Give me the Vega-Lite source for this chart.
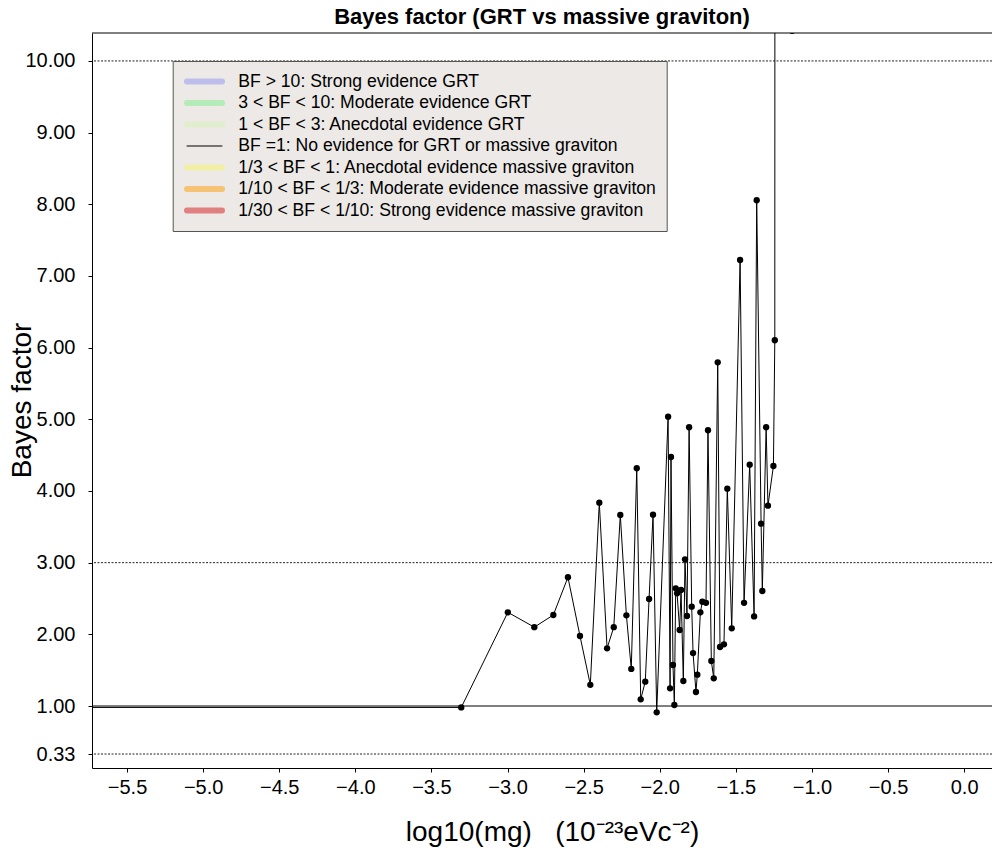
{
  "$schema": "https://vega.github.io/schema/vega-lite/v6.json",
  "width": 900,
  "height": 735,
  "autosize": {"type": "none"},
  "padding": {"left": 92, "top": 33, "right": 0, "bottom": 84},
  "background": "white",
  "title": {"text": "Bayes factor (GRT vs massive graviton)", "font": "Liberation Sans", "fontSize": 22, "fontWeight": "bold", "color": "black", "anchor": "middle", "offset": 4},
  "config": {
    "view": {"stroke": null},
    "font": "Liberation Sans",
    "axis": {"grid": false, "domainColor": "black", "tickColor": "black", "labelColor": "black", "titleColor": "black", "labelFont": "Liberation Sans", "titleFont": "Liberation Sans", "labelFontSize": 20, "titleFontWeight": "normal", "titleFontSize": 28, "domainWidth": 1, "tickWidth": 1}
  },
  "datasets": {
    "bf": [
      {"m": -7.0, "bf": 0.98},
      {"m": -3.304, "bf": 0.98},
      {"m": -2.998, "bf": 2.307},
      {"m": -2.824, "bf": 2.10},
      {"m": -2.699, "bf": 2.27},
      {"m": -2.603, "bf": 2.796},
      {"m": -2.524, "bf": 1.977},
      {"m": -2.456, "bf": 1.296},
      {"m": -2.397, "bf": 3.837},
      {"m": -2.346, "bf": 1.805},
      {"m": -2.302, "bf": 2.10},
      {"m": -2.259, "bf": 3.665},
      {"m": -2.219, "bf": 2.265},
      {"m": -2.187, "bf": 1.518},
      {"m": -2.151, "bf": 4.317},
      {"m": -2.125, "bf": 1.093},
      {"m": -2.095, "bf": 1.34},
      {"m": -2.070, "bf": 2.493},
      {"m": -2.044, "bf": 3.67},
      {"m": -2.020, "bf": 0.912},
      {"m": -1.945, "bf": 5.037},
      {"m": -1.932, "bf": 1.247},
      {"m": -1.926, "bf": 4.474},
      {"m": -1.913, "bf": 1.572},
      {"m": -1.904, "bf": 1.014},
      {"m": -1.895, "bf": 2.642},
      {"m": -1.886, "bf": 2.572},
      {"m": -1.869, "bf": 2.06},
      {"m": -1.860, "bf": 2.62},
      {"m": -1.845, "bf": 1.349},
      {"m": -1.834, "bf": 3.047},
      {"m": -1.821, "bf": 2.256},
      {"m": -1.807, "bf": 4.889},
      {"m": -1.790, "bf": 2.386},
      {"m": -1.781, "bf": 1.739},
      {"m": -1.762, "bf": 1.195},
      {"m": -1.753, "bf": 1.437},
      {"m": -1.733, "bf": 2.307},
      {"m": -1.720, "bf": 2.455},
      {"m": -1.696, "bf": 2.44},
      {"m": -1.683, "bf": 4.847},
      {"m": -1.661, "bf": 1.628},
      {"m": -1.645, "bf": 1.386},
      {"m": -1.619, "bf": 5.795},
      {"m": -1.604, "bf": 1.823},
      {"m": -1.578, "bf": 1.86},
      {"m": -1.556, "bf": 4.032},
      {"m": -1.527, "bf": 2.084},
      {"m": -1.472, "bf": 7.223},
      {"m": -1.446, "bf": 2.44},
      {"m": -1.409, "bf": 4.367},
      {"m": -1.380, "bf": 2.25},
      {"m": -1.363, "bf": 8.056},
      {"m": -1.334, "bf": 3.544},
      {"m": -1.326, "bf": 2.605},
      {"m": -1.301, "bf": 4.89},
      {"m": -1.289, "bf": 3.795},
      {"m": -1.253, "bf": 4.349},
      {"m": -1.244, "bf": 6.103},
      {"m": -1.240, "bf": 40},
      {"m": -1.13, "bf": 10.42}
    ],
    "bands": [
      {"cat": "BF > 10: Strong evidence GRT", "lo": 10},
      {"cat": "3 < BF < 10: Moderate evidence GRT", "lo": 3},
      {"cat": "1 < BF < 3: Anecdotal evidence GRT", "lo": 1},
      {"cat": "BF =1: No evidence for GRT or massive graviton", "lo": 1},
      {"cat": "1/3 < BF < 1: Anecdotal evidence massive graviton", "lo": 0.3333},
      {"cat": "1/10 < BF < 1/3: Moderate evidence massive graviton", "lo": 0.1},
      {"cat": "1/30 < BF < 1/10: Strong evidence massive graviton", "lo": 0.0333}
    ],
    "dotted": [{"y": 10}, {"y": 3}, {"y": 0.33}],
    "solid": [{"y": 1}],
    "frame": [{"y": 10.39}]
  },
  "layer": [
    {
      "data": {"name": "bands"},
      "mark": {"type": "rule", "opacity": 0, "clip": true},
      "encoding": {
        "y": {"field": "lo", "type": "quantitative", "scale": {"domain": [0.135, 10.39], "nice": false, "zero": false},
          "axis": {"values": [0.33, 1, 2, 3, 4, 5, 6, 7, 8, 9, 10], "format": ".2f", "tickSize": 4, "labelPadding": 13,
            "title": "Bayes factor", "titleX": -70, "titleY": 367, "titleBaseline": "middle", "titleAngle": -90, "titleAnchor": "middle"}},
        "color": {
          "field": "cat", "type": "nominal",
          "scale": {
            "domain": ["BF > 10: Strong evidence GRT", "3 < BF < 10: Moderate evidence GRT", "1 < BF < 3: Anecdotal evidence GRT", "BF =1: No evidence for GRT or massive graviton", "1/3 < BF < 1: Anecdotal evidence massive graviton", "1/10 < BF < 1/3: Moderate evidence massive graviton", "1/30 < BF < 1/10: Strong evidence massive graviton"],
            "range": ["#BEBEEC", "#B4EBB9", "#E1EECD", "#000000", "#F2EEA5", "#F5C373", "#E18080"]
          },
          "legend": {
            "orient": "none", "legendX": 80.7, "legendY": 28, "title": null,
            "symbolType": "M-3.5,0H3.5", "symbolSize": 100, "symbolStrokeWidth": 6,
            "labelFont": "Liberation Sans", "labelFontSize": 17.6, "labelLimit": 700, "labelColor": "black",
            "fillColor": "#ECE9E6", "strokeColor": "#555555", "padding": 10, "rowPadding": 0.5, "clipHeight": 21, "labelOffset": 25, "symbolOffset": 13,
            "encode": {
              "symbols": {"update": {
                "opacity": {"value": 1},
                "strokeOpacity": {"value": 1},
                "strokeCap": {"value": "round"}
              }}
            }
          }
        },
        "strokeWidth": {
          "field": "cat", "type": "nominal",
          "scale": {
            "type": "ordinal",
            "domain": ["BF > 10: Strong evidence GRT", "3 < BF < 10: Moderate evidence GRT", "1 < BF < 3: Anecdotal evidence GRT", "BF =1: No evidence for GRT or massive graviton", "1/3 < BF < 1: Anecdotal evidence massive graviton", "1/10 < BF < 1/3: Moderate evidence massive graviton", "1/30 < BF < 1/10: Strong evidence massive graviton"],
            "range": [6, 6, 6, 1, 6, 6, 6]
          }
        }
      }
    },
    {
      "data": {"name": "dotted"},
      "mark": {"type": "rule", "color": "#222222", "strokeWidth": 1, "strokeDash": [2, 1.5]},
      "encoding": {"y": {"field": "y", "type": "quantitative"}}
    },
    {
      "data": {"name": "solid"},
      "mark": {"type": "rule", "color": "black", "strokeWidth": 1},
      "encoding": {"y": {"field": "y", "type": "quantitative"}}
    },
    {
      "data": {"name": "frame"},
      "mark": {"type": "rule", "color": "black", "strokeWidth": 1},
      "encoding": {"y": {"field": "y", "type": "quantitative"}}
    },
    {
      "data": {"name": "bf"},
      "mark": {"type": "line", "color": "black", "strokeWidth": 1, "clip": true},
      "encoding": {
        "x": {"field": "m", "type": "quantitative", "sort": null, "scale": {"domain": [-5.73, 0.183], "nice": false, "zero": false},
          "axis": {"orient": "bottom", "values": [-5.5, -5, -4.5, -4, -3.5, -3, -2.5, -2, -1.5, -1, -0.5, 0], "format": ".1f", "tickSize": 4, "labelPadding": 5,
            "title": "log10(mg) \u00a0\u00a0(10⁻²³eVc⁻²)", "titleX": 460, "titleY": 64, "titleBaseline": "middle", "titleAnchor": "middle"}},
        "y": {"field": "bf", "type": "quantitative"}
      }
    },
    {
      "data": {"name": "bf"},
      "mark": {"type": "point", "filled": true, "color": "black", "size": 40, "opacity": 1, "clip": true},
      "encoding": {
        "x": {"field": "m", "type": "quantitative"},
        "y": {"field": "bf", "type": "quantitative"}
      }
    }
  ]
}
